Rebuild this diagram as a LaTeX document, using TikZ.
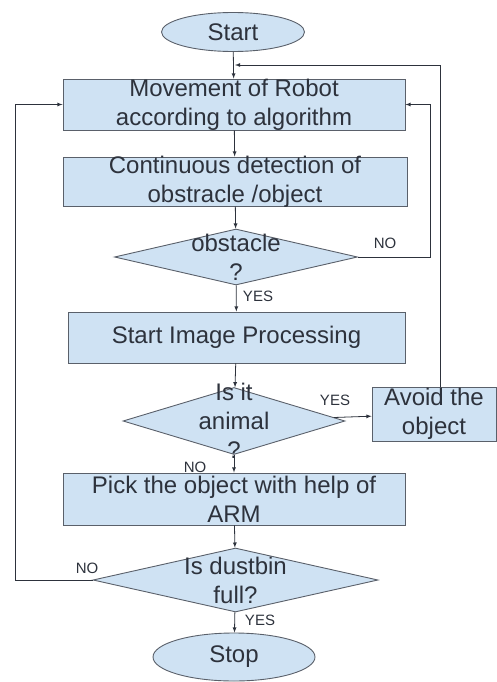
\documentclass[tikz,border=0pt]{standalone}
\usepackage{fontspec}
\setmainfont{Liberation Sans}
\usetikzlibrary{shapes.geometric}

\definecolor{boxblue}{RGB}{207,226,243}
\definecolor{edgegray}{RGB}{90,96,106}
\definecolor{inkgray}{RGB}{45,50,60}

\tikzset{
  procbox/.style={draw=edgegray, fill=boxblue, rectangle, inner sep=0pt, line width=0.9pt},
  decision/.style={draw=edgegray, fill=boxblue, diamond, inner sep=0pt, line width=0.9pt},
  terminal/.style={draw=edgegray, fill=boxblue, ellipse, inner sep=0pt, line width=0.9pt},
  boxtext/.style={text=inkgray, font=\fontsize{24}{29}\selectfont, align=center, inner sep=0pt},
  lbl/.style={text=inkgray, font=\fontsize{15}{18}\selectfont, inner sep=0pt},
  flow/.style={->, >=latex, draw=inkgray, line width=0.8pt}
}

\begin{document}
\begin{tikzpicture}[x=1pt, y=-1pt]
        \useasboundingbox (0,0) rectangle (496,682);

        % Terminals
        \node[terminal, minimum width=143, minimum height=39] (start) at (233,32)
            {\fontsize{24}{29}\selectfont\color{inkgray}Start};
        \node[terminal, minimum width=162, minimum height=48] (stop) at (234,657)
            {\fontsize{24}{29}\selectfont\color{inkgray}Stop};

        % Process boxes
        \node[procbox, minimum width=342, minimum height=51,
              label={[boxtext]center:{Movement of Robot\\according to algorithm}}] (move) at (234,104.5) {};
        \node[procbox, minimum width=344, minimum height=49,
              label={[boxtext]center:{Continuous detection of\\obstracle /object}}] (detect) at (235,181.5) {};
        \node[procbox, minimum width=337, minimum height=51,
              label={[boxtext]center:{Start Image Processing}}] (imgproc) at (236.5,337.5) {};
        \node[procbox, minimum width=342, minimum height=52,
              label={[boxtext]center:{Pick the object with help of\\ARM}}] (pick) at (234,499) {};
        \node[procbox, minimum width=124, minimum height=54,
              label={[boxtext]center:{Avoid the\\object}}] (avoid) at (434,414) {};

        % Decisions
        \node[decision, minimum width=243, minimum height=56,
              label={[boxtext]center:{obstacle\\?}}] (obst) at (236,257) {};
        \node[decision, minimum width=222, minimum height=67,
              label={[boxtext]center:{Is it\\animal\\?}}] (animal) at (234,421) {};
        \node[decision, minimum width=285, minimum height=64,
              label={[boxtext]center:{Is dustbin\\full?}}] (dustbin) at (235.5,580) {};

        % Turning points
        \coordinate (loopin) at (235,65);
        \coordinate (noturn) at (430,257);
        \coordinate (fullturn) at (15,580);

        % Main flow
        \draw[flow] (start) -- (move);
        \draw[flow] (move) -- (detect);
        \draw[flow] (detect) -- (obst);
        \draw[flow] (obst) -- (imgproc);
        \draw[flow] (imgproc) -- (animal);
        \draw[flow] (animal) -- (avoid);
        \draw[flow] (animal) -- (pick);
        \draw[flow] (pick) -- (dustbin);
        \draw[flow] (dustbin) -- (stop);

        % Loops back
        \draw[flow] ([xshift=6pt]avoid.north) |- (loopin);
        \draw[flow] (obst.east) -- (noturn) |- (move.east);
        \draw[flow] (dustbin.west) -- (fullturn) |- (move.west);

        % Branch labels
        \node[lbl] (obstno) at (385,243) {NO};
        \node[lbl] (obstyes) at (258,296) {YES};
        \node[lbl] (animalyes) at (335,400) {YES};
        \node[lbl] (animalno) at (195,467) {NO};
        \node[lbl] (binno) at (87,568) {NO};
        \node[lbl] (binyes) at (260,620) {YES};
\end{tikzpicture}
\end{document}
